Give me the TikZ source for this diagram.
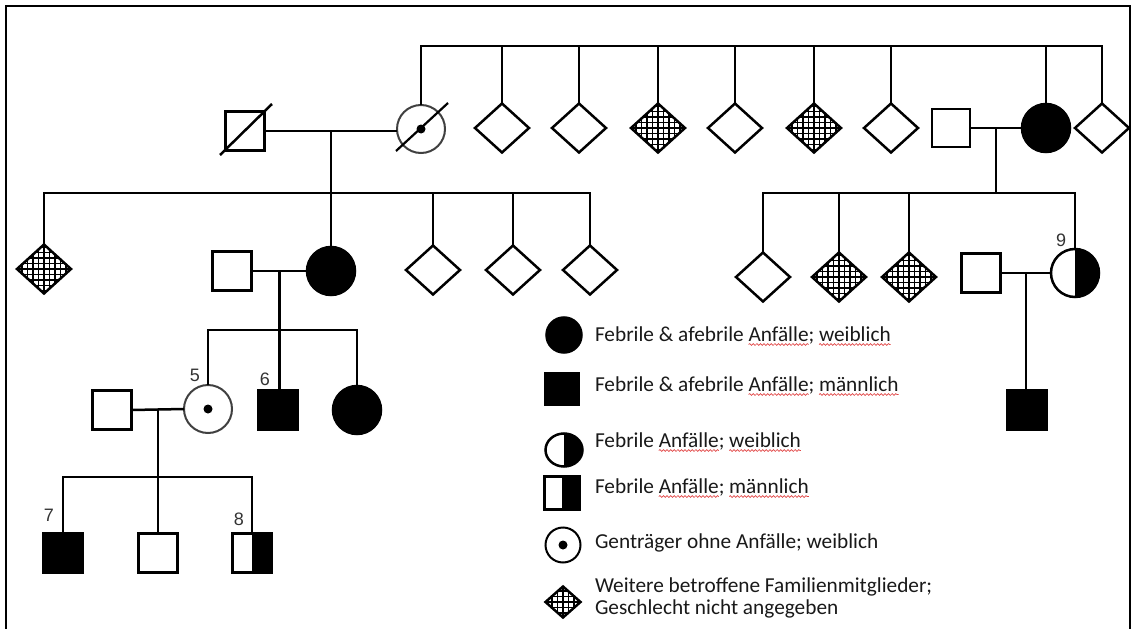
\documentclass[tikz,border=0pt]{standalone}
\usepackage{fontspec}
\usetikzlibrary{shapes.geometric,decorations.pathmorphing,calc}
\newfontfamily\legfont{Carlito}
\newfontfamily\numfont{Liberation Sans}
\definecolor{squig}{RGB}{225,70,70}
\begin{document}
\begin{tikzpicture}[x=1pt,y=-1pt,
  ln/.style={line width=2.5pt},
  sym/.style={draw, line width=2.5pt, inner sep=0pt, outer sep=0pt},
  male/.style={sym, rectangle, minimum width=39pt, minimum height=39pt},
  fem/.style={sym, circle, minimum size=48pt},
  unk/.style={sym, diamond, minimum width=54pt, minimum height=49pt},
  aff/.style={fill=black},
  hatch/.style={path picture={\draw[line width=1.3pt] ([shift={(-2pt,-2pt)}]path picture bounding box.south west) grid[step=5.5pt] ([shift={(2pt,2pt)}]path picture bounding box.north east);}},
  halfr/.style={path picture={\fill[black] (path picture bounding box.north) rectangle (path picture bounding box.south east);}},
  carrier/.style={draw=black!75, line width=2pt, path picture={\fill[black] (path picture bounding box.center) circle[radius=4.5pt];}},
  num/.style={font=\numfont\fontsize{18}{20}\selectfont, inner sep=0pt, text=black!80},
  lt/.style={font=\legfont\fontsize{21.3}{25}\selectfont, text=black!90, inner sep=0pt, outer sep=0pt, anchor=base west},
  wave/.style={draw=squig, line width=0.7pt, decorate, decoration={snake, amplitude=0.9pt, segment length=3.6pt}},
]
\useasboundingbox (0,0) rectangle (1136,629);
\draw[line width=2.2pt] (6,629) -- (6,6) -- (1130,6) -- (1130,629);

% ---------- generation I ----------
\node[male] (I1) at (245,131) {};
\node[fem, carrier] (I2) at (421,129) {};
\node[unk] (S1) at (502,128) {};
\node[unk] (S2) at (579,128) {};
\node[unk, hatch] (S3) at (658,128) {};
\node[unk] (S4) at (735,128) {};
\node[unk, hatch] (S5) at (814,128) {};
\node[unk] (S6) at (891,128) {};
\node[male, minimum width=38pt, minimum height=38pt] (R1) at (951,128) {};
\node[fem, aff] (R2) at (1046,128) {};
\node[unk] (S7) at (1102,128) {};

\coordinate (top) at (0,46);
\draw[ln] (I2.north) -- (I2.north |- top) -- (S7.north |- top) -- (S7.north);
\foreach \n in {S1,S2,S3,S4,S5,S6,R2} \draw[ln] (\n.north) -- (\n.north |- top);

% deceased slashes
\draw[ln] ([shift={(-25,24)}]I1.center) -- ([shift={(27,-27)}]I1.center);
\draw[line width=2.2pt] ([shift={(-25,22)}]I2.center) -- ([shift={(27,-26)}]I2.center);

% ---------- left family ----------
\draw[ln] (I1.east) -- (I1.east -| I2.west);
\coordinate (d1) at ($(I1.east)!0.5!(I1.east -| I2.west)$);
\coordinate (sibA) at (0,193);

\node[unk, hatch] (A1) at (44,269) {};
\node[fem, aff] (A2) at (331,271) {};
\node[unk] (A3) at (433,270) {};
\node[unk] (A4) at (513,270) {};
\node[unk] (A5) at (590,270) {};
\draw[ln] (d1) -- (d1 |- A2.north);
\draw[ln] (A1.north) -- (A1.north |- sibA) -- (A5.north |- sibA) -- (A5.north);
\draw[ln] (A3.north) -- (A3.north |- sibA);
\draw[ln] (A4.north) -- (A4.north |- sibA);

\node[male] (B1) at (232,271) {};
\draw[ln] (B1.east) -- (A2.west);
\coordinate (d2) at ($(B1.east)!0.5!(A2.west)$);
\coordinate (sibB) at (0,330);

\node[fem, carrier] (C1) at (208,409) {};
\node[male, aff] (C2) at (278,410) {};
\node[fem, aff] (C3) at (357,410) {};
\draw[ln] (d2) -- (d2 |- C2.north);
\draw[ln] (C1.north) -- (C1.north |- sibB) -- (C3.north |- sibB) -- (C3.north);
\node[num] (L5) at (195,375) {5};
\node[num] (L6) at (265,379) {6};

\node[male] (D1) at (112,410) {};
\draw[ln] (D1.east) -- (C1.west);
\coordinate (d3) at ($(D1.east)!0.5!(C1.west)$);
\coordinate (sibC) at (0,477);

\node[male, aff] (E1) at (63,553) {};
\node[male] (E2) at (158,553) {};
\node[male, halfr] (E3) at (252,553) {};
\draw[ln] (d3) -- (d3 |- E2.north);
\draw[ln] (E1.north) -- (E1.north |- sibC) -- (E3.north |- sibC) -- (E3.north);
\node[num] (L7) at (49,515) {7};
\node[num] (L8) at (239,519) {8};

% ---------- right family ----------
\draw[ln] (R1.east) -- (R2.west);
\coordinate (d4) at ($(R1.east)!0.5!(R2.west)$);
\coordinate (sibD) at (0,193);

\node[unk] (F1) at (763,277) {};
\node[unk, hatch] (F2) at (839,277) {};
\node[unk, hatch] (F3) at (909,277) {};
\node[fem, halfr] (F4) at (1075,273) {};
\draw[ln] (d4) -- (d4 |- sibD);
\draw[ln] (F1.north) -- (F1.north |- sibD) -- (F4.north |- sibD) -- (F4.north);
\draw[ln] (F2.north) -- (F2.north |- sibD);
\draw[ln] (F3.north) -- (F3.north |- sibD);
\node[num] (L9) at (1061,240) {9};

\node[male] (G1) at (981,273) {};
\draw[ln] (G1.east) -- (F4.west);
\coordinate (d5) at ($(G1.east)!0.5!(F4.west)$);
\node[male, aff] (H1) at (1027,410) {};
\draw[ln] (d5) -- (d5 |- H1.north);

% ---------- legend ----------
\node[sym, circle, aff, minimum size=35pt] (K1) at (564,335) {};
\node[sym, rectangle, aff, minimum width=34pt, minimum height=32pt] (K2) at (562,389) {};
\node[sym, ellipse, halfr, minimum width=37pt, minimum height=33pt] (K3) at (564,450) {};
\node[sym, rectangle, halfr, minimum width=35pt, minimum height=33pt] (K4) at (562,493) {};
\node[sym, circle, carrier, draw=black, minimum size=35pt] (K5) at (563,545) {};
\node[sym, diamond, hatch, minimum width=35pt, minimum height=31pt] (K6) at (563,602) {};

\node[lt] (T1a) at (595,341) {Febrile \& afebrile};
\node[lt] (T1b) at ([xshift=4.7pt]T1a.base east) {Anfälle};
\node[lt] (T1c) at (T1b.base east) {;};
\node[lt] (T1d) at ([xshift=4.7pt]T1c.base east) {weiblich};

\node[lt] (T2a) at (595,391) {Febrile \& afebrile};
\node[lt] (T2b) at ([xshift=4.7pt]T2a.base east) {Anfälle};
\node[lt] (T2c) at (T2b.base east) {;};
\node[lt] (T2d) at ([xshift=4.7pt]T2c.base east) {männlich};

\node[lt] (T3a) at (595,447) {Febrile};
\node[lt] (T3b) at ([xshift=4.7pt]T3a.base east) {Anfälle};
\node[lt] (T3c) at (T3b.base east) {;};
\node[lt] (T3d) at ([xshift=4.7pt]T3c.base east) {weiblich};

\node[lt] (T4a) at (595,493) {Febrile};
\node[lt] (T4b) at ([xshift=4.7pt]T4a.base east) {Anfälle};
\node[lt] (T4c) at (T4b.base east) {;};
\node[lt] (T4d) at ([xshift=4.7pt]T4c.base east) {männlich};

\node[lt] (T5) at (595,548) {Genträger ohne Anfälle; weiblich};
\node[lt] (T6a) at (595,592) {Weitere betroffene Familienmitglieder;};
\node[lt] (T6b) at (595,614) {Geschlecht nicht angegeben};

\foreach \w in {T1b,T1d,T2b,T2d,T3b,T3d,T4b,T4d}
  \draw[wave] ([yshift=-3.5pt]\w.base west) -- ([yshift=-3.5pt]\w.base east);
\end{tikzpicture}
\end{document}
